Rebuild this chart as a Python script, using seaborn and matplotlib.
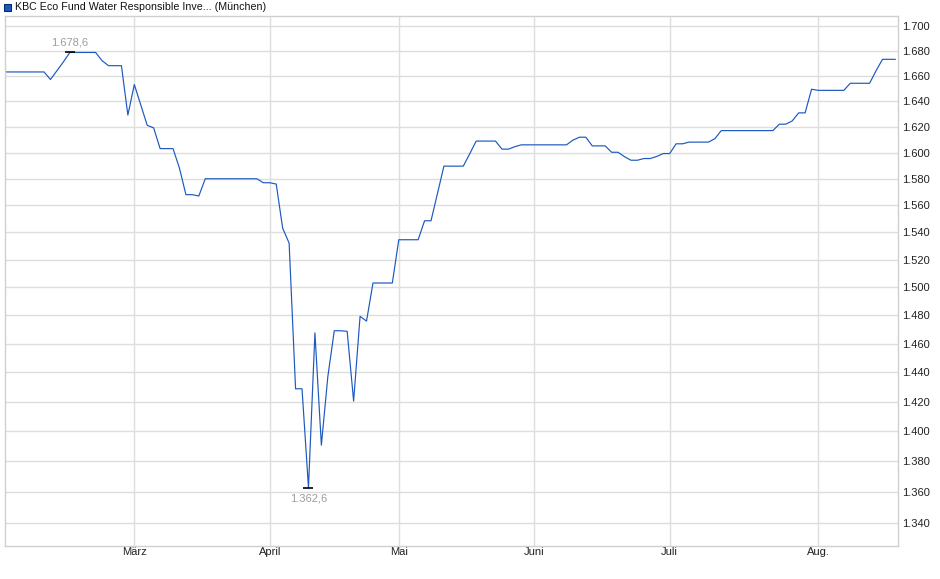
import numpy as np
import pandas as pd
import matplotlib
matplotlib.use("Agg")
import matplotlib.pyplot as plt
from matplotlib.ticker import FixedLocator, NullLocator, FixedFormatter
import seaborn as sns

# ---------------- data ----------------
title = "KBC Eco Fund Water Responsible Inve... (München)"
holidays = ["2025-04-18", "2025-04-21", "2025-05-01"]
start_date, end_date = "2025-02-03", "2025-08-19"

prices = [
    1663, 1663, 1663, 1663, 1663, 1663, 1663, 1657, 1664, 1671,      # 0-9
    1678.6, 1678.6, 1678.6, 1678.6, 1678.6, 1672, 1668, 1668, 1668, 1629,  # 10-19
    1653, 1637, 1621, 1619, 1603, 1603, 1603, 1588, 1568, 1568,      # 20-29
    1567, 1580, 1580, 1580, 1580, 1580, 1580, 1580, 1580, 1580,      # 30-39
    1577, 1577, 1576, 1543, 1532, 1428.7, 1428.7, 1362.6, 1467.5, 1390.6,  # 40-49
    1437, 1469, 1469, 1468.6, 1420.3, 1479.2, 1475.8, 1503, 1503, 1503,  # 50-59
    1503, 1534.5, 1534.5, 1534.5, 1534.5, 1548.5, 1548.5, 1569, 1589.6, 1589.6,  # 60-69
    1589.6, 1589.6, 1599, 1608.8, 1608.8, 1608.8, 1608.8, 1602.6, 1602.6, 1604.5,  # 70-79
    1605.9, 1605.9, 1605.9, 1605.9, 1605.9, 1605.9, 1605.9, 1605.9, 1609.5, 1611.8,  # 80-89
    1611.8, 1605.1, 1605.1, 1605.1, 1600.2, 1600.2, 1596.8, 1594.1, 1594.1, 1595.4,  # 90-99
    1595.4, 1597.0, 1599.2, 1599.2, 1606.7, 1606.7, 1608.0, 1608.0, 1608.0, 1608.0,  # 100-109
    1610.6, 1616.9, 1616.9, 1616.9, 1616.9, 1616.9, 1616.9, 1616.9, 1616.9, 1616.9,  # 110-119
    1621.9, 1621.9, 1624.4, 1630.7, 1630.7, 1649.3, 1648.4, 1648.4, 1648.4, 1648.4,  # 120-129
    1648.4, 1654.0, 1654.0, 1654.0, 1654.0, 1664, 1673.1, 1673.1, 1673.1,  # 130-138
]
y_ticks = [1340, 1360, 1380, 1400, 1420, 1440, 1460, 1480, 1500, 1520,
           1540, 1560, 1580, 1600, 1620, 1640, 1660, 1680, 1700]
month_labels = ["März", "April", "Mai", "Juni", "Juli", "Aug."]
month_starts = ["2025-03", "2025-04", "2025-05", "2025-06", "2025-07", "2025-08"]

# ---------------- build ----------------
dates = pd.bdate_range(start_date, end_date)
dates = dates[~dates.isin(pd.to_datetime(holidays))]
df = pd.DataFrame({"idx": np.arange(len(prices)), "date": dates[:len(prices)], "price": prices})
month_pos = [int(df.index[df["date"].dt.strftime("%Y-%m") == m][0]) for m in month_starts]

sns.set_theme(style="white")
plt.rcParams["font.family"] = ["Liberation Sans", "DejaVu Sans"]

W, H = 940, 579
fig = plt.figure(figsize=(W / 100, H / 100), dpi=100)
ax = fig.add_axes([5 / W, (H - 546) / H, (898 - 5) / W, (546 - 16) / H])

grid_c = "#dedede"
line_c = "#1c58c0"

sns.lineplot(data=df, x="idx", y="price", ax=ax, color=line_c, linewidth=0.85)

ax.set_yscale("log")
ax.set_ylim(1325, 1708.2)
ax.set_xlim(-0.05, 138.4)

ax.yaxis.set_major_locator(FixedLocator(y_ticks))
ax.yaxis.set_major_formatter(FixedFormatter([f"{v:,.0f}".replace(",", ".") for v in y_ticks]))
ax.yaxis.set_minor_locator(NullLocator())
ax.yaxis.tick_right()
ax.set_xticks(month_pos)
ax.set_xticklabels(month_labels)
ax.tick_params(axis="both", length=0, labelsize=8, colors="#222222")
ax.tick_params(axis="y", pad=3)
ax.tick_params(axis="x", pad=1)
ax.set_xlabel("")
ax.set_ylabel("")

ax.grid(True, color=grid_c, linewidth=1.0)
ax.set_axisbelow(True)
for s in ax.spines.values():
    s.set_color("#d0d0d0")
    s.set_linewidth(1.0)

# extremes
imax = int(np.argmax(prices))
imin = int(np.argmin(prices))

def de(v):
    return f"{v:,.1f}".replace(",", "X").replace(".", ",").replace("X", ".")

ax.plot([imax], [prices[imax]], marker="_", color="black", markersize=7, mew=1.2)
ax.plot([imin], [prices[imin]], marker="_", color="black", markersize=7, mew=1.2)
ax.annotate(de(prices[imax]), (imax, prices[imax]), xytext=(0, 3.5), textcoords="offset points",
            ha="center", va="bottom", fontsize=8, color="#a09c98")
ax.annotate(de(prices[imin]), (imin, prices[imin]), xytext=(0, -4.5), textcoords="offset points",
            ha="center", va="top", fontsize=8, color="#a09c98")

# header legend
fig.patches.append(plt.Rectangle((4 / W, 1 - 11 / H), 7 / W, 7 / H, transform=fig.transFigure,
                                 facecolor="#1c58c0", edgecolor="#0a2a6a", linewidth=0.8))
fig.text(15 / W, 1 - 7 / H, title, ha="left", va="center", fontsize=7.7, color="#111111")

fig.savefig("out.png", dpi=100)
